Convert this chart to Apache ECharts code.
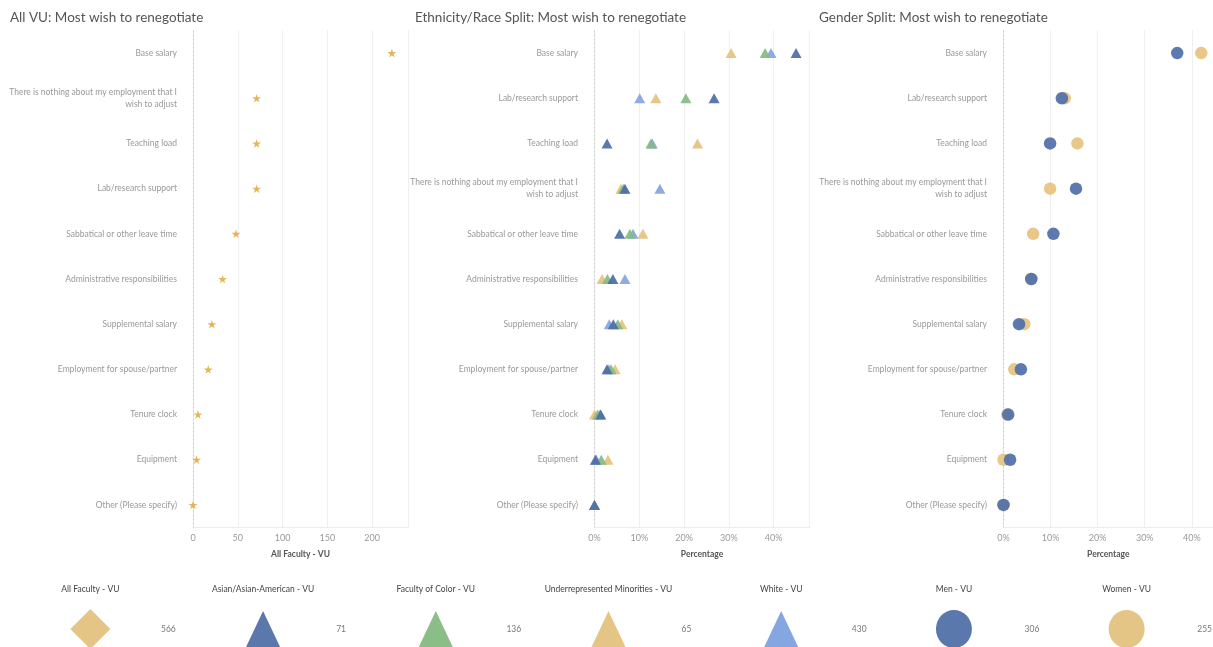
<!DOCTYPE html>
<html>
<head>
<meta charset="utf-8">
<title>Most wish to renegotiate</title>
<script src="https://cdn.jsdelivr.net/npm/echarts@6/dist/echarts.min.js"></script>
<style>
  html, body { margin: 0; padding: 0; background: #fff; }
  #chart { width: 1213px; height: 647px; }
</style>
</head>
<body>
<div id="chart"></div>
<script>
// Items, in the order each panel lists them
var allCategories = ['Base salary', 'There is nothing about my employment that I wish to adjust', 'Teaching load',
  'Lab/research support', 'Sabbatical or other leave time', 'Administrative responsibilities',
  'Supplemental salary', 'Employment for spouse/partner', 'Tenure clock', 'Equipment', 'Other (Please specify)'];
var splitCategories = ['Base salary', 'Lab/research support', 'Teaching load',
  'There is nothing about my employment that I wish to adjust', 'Sabbatical or other leave time',
  'Administrative responsibilities', 'Supplemental salary', 'Employment for spouse/partner',
  'Tenure clock', 'Equipment', 'Other (Please specify)'];

// All Faculty - VU (counts), same order as allCategories
var allFaculty = [222, 71, 71, 71, 48, 33, 21, 17, 5.5, 4, 0];

// Percentages, same order as splitCategories
var urmPct   = [30.5, 13.7, 23.0, 5.9, 10.8, 1.7, 6.1, 4.6, 0.0, 3.0, 0];
var whitePct = [39.4, 10.1, 12.9, 14.6, 8.6, 6.8, 3.3, 3.2, 1.2, 0.4, 0];
var focPct   = [38.1, 20.4, 12.6, 6.4, 7.9, 2.9, 5.2, 3.7, 0.7, 1.5, 0];
var asianPct = [45.0, 26.7, 2.8, 6.8, 5.6, 4.1, 4.2, 2.8, 1.4, 0.2, 0];
var womenPct = [42.0, 13.0, 15.7, 9.9, 6.3, 5.9, 4.4, 2.3, 0.8, 0.0, 0];
var menPct   = [36.9, 12.4, 9.9, 15.4, 10.6, 5.9, 3.3, 3.7, 1.0, 1.4, 0];

// Legend: group names and respondent counts
var legendNames = ['All Faculty - VU', 'Asian/Asian-American - VU', 'Faculty of Color - VU',
  'Underrepresented Minorities - VU', 'White - VU', 'Men - VU', 'Women - VU'];
var legendCounts = [566, 71, 136, 65, 430, 306, 255];

(function () {
  var chart = echarts.init(document.getElementById('chart'));
  var FONT = 'Lato, "Noto Sans", sans-serif';

  var STAR = 'path://M50,0 L61,35 L98,35 L68,57 L79,91 L50,70 L21,91 L32,57 L2,35 L39,35 Z';
  var C = {
    gold: '#e5c585', star: '#dfaf4c', asian: '#4d6ca7', foc: '#86bb80',
    urm: '#e5c17e', white: '#84a4e2', men: '#4f6fa9', women: '#e6c27f'
  };

  function pairs(vals, cats) {
    return vals.map(function (v, i) { return [v, cats[i]]; });
  }

  function wrapLabel(v) {
    return v.replace('that I wish', 'that I\nwish');
  }

  function makeY(gridIndex, cats, offset) {
    return {
      type: 'category', gridIndex: gridIndex, data: cats, inverse: true, offset: offset,
      axisLine: { show: true, lineStyle: { color: '#ececec' } },
      axisTick: { show: false },
      splitLine: { show: false },
      axisLabel: {
        color: '#999', fontSize: 8.5, fontFamily: FONT, margin: 3,
        lineHeight: 12, formatter: wrapLabel
      }
    };
  }

  function makeX(gridIndex, max, interval, name, fmt) {
    return {
      type: 'value', gridIndex: gridIndex, min: 0, max: max, interval: interval,
      name: name, nameLocation: 'middle', nameGap: 22,
      nameTextStyle: { color: '#555', fontSize: 8.5, fontWeight: 'bold', fontFamily: FONT },
      axisLine: { show: true, lineStyle: { color: '#ececec' } },
      axisTick: { show: false },
      splitLine: { show: true, lineStyle: { color: '#efefef', width: 1 } },
      axisLabel: {
        color: '#9a9a9a', fontSize: 9, fontFamily: FONT, margin: 6,
        showMaxLabel: false, formatter: fmt
      }
    };
  }

  // dotted zero line, drawn beneath the marks
  function zero(xi, yi) {
    return {
      type: 'scatter', xAxisIndex: xi, yAxisIndex: yi, data: [], z: 1, silent: true,
      markLine: {
        silent: true, symbol: 'none', label: { show: false }, z: 1,
        lineStyle: { color: '#cdcdcd', type: [2, 2], width: 1 },
        data: [{ xAxis: 0 }]
      }
    };
  }

  function dots(name, xi, yi, vals, cats, symbol, size, color, z) {
    return {
      name: name, type: 'scatter', xAxisIndex: xi, yAxisIndex: yi,
      data: pairs(vals, cats), symbol: symbol, symbolSize: size, z: z,
      itemStyle: { color: color, opacity: 0.92 }
    };
  }

  var titleStyle = { color: '#555', fontSize: 13.5, fontWeight: 'normal', fontFamily: FONT };

  var option = {
    animation: false,
    backgroundColor: '#fff',
    title: [
      { text: 'All VU: Most wish to renegotiate', left: 5, top: 6, textStyle: titleStyle },
      { text: 'Ethnicity/Race Split: Most wish to renegotiate', left: 410, top: 6, textStyle: titleStyle },
      { text: 'Gender Split: Most wish to renegotiate', left: 814, top: 6, textStyle: titleStyle }
    ],
    grid: [
      { left: 193, right: 805, top: 30.5, bottom: 119.5 },
      { left: 594.5, right: 403.5, top: 30.5, bottom: 119.5 },
      { left: 1003.5, right: 0, top: 30.5, bottom: 119.5 },
      { left: 4, right: 0, top: 611, height: 40 }
    ],
    xAxis: [
      makeX(0, 240, 50, 'All Faculty - VU', '{value}'),
      makeX(1, 48, 10, 'Percentage', '{value}%'),
      makeX(2, 44.5, 10, 'Percentage', '{value}%'),
      { type: 'category', gridIndex: 3, data: legendNames, show: false }
    ],
    yAxis: [
      makeY(0, allCategories, 13),
      makeY(1, splitCategories, 13.5),
      makeY(2, splitCategories, 13.5),
      { type: 'value', gridIndex: 3, min: 0, max: 1, show: false }
    ],
    series: [
      zero(0, 0), zero(1, 1), zero(2, 2),

      dots('All Faculty - VU', 0, 0, allFaculty, allCategories, STAR, [9, 8.5], C.star, 3),

      dots('Underrepresented Minorities - VU', 1, 1, urmPct, splitCategories, 'triangle', [11, 10], C.urm, 3),
      dots('White - VU', 1, 1, whitePct, splitCategories, 'triangle', [11, 10], C.white, 4),
      dots('Faculty of Color - VU', 1, 1, focPct, splitCategories, 'triangle', [11, 10], C.foc, 5),
      dots('Asian/Asian-American - VU', 1, 1, asianPct, splitCategories, 'triangle', [11, 10], C.asian, 6),

      dots('Women - VU', 2, 2, womenPct, splitCategories, 'circle', 12.5, C.women, 3),
      dots('Men - VU', 2, 2, menPct, splitCategories, 'circle', 12.5, C.men, 4),

      // legend shapes with their group names above
      {
        type: 'scatter', xAxisIndex: 3, yAxisIndex: 3, silent: true,
        data: legendNames.map(function (n, i) {
          var look = [
            ['diamond', [40, 40], C.gold], ['triangle', [34, 36], '#5b78ad'],
            ['triangle', [34, 36], '#8bbd87'], ['triangle', [34, 36], C.gold],
            ['triangle', [34, 36], '#86a6e2'], ['circle', [36, 38], '#5b78ad'],
            ['circle', [36, 38], C.gold]
          ][i];
          return {
            value: [n, 0.5], symbol: look[0], symbolSize: look[1],
            itemStyle: { color: look[2], opacity: 1 }
          };
        }),
        label: {
          show: true, position: 'inside', offset: [0, -40],
          formatter: function (p) { return p.value[0]; },
          color: '#444', fontSize: 8.5, fontFamily: FONT
        }
      },
      // legend counts
      {
        type: 'scatter', xAxisIndex: 3, yAxisIndex: 3, silent: true,
        symbolSize: 0,
        data: legendNames.map(function (n) { return [n, 0.5]; }),
        label: {
          show: true, position: 'inside', offset: [78, 0],
          formatter: function (p) { return String(legendCounts[p.dataIndex]); },
          color: '#555', fontSize: 8.5, fontFamily: FONT
        }
      }
    ]
  };

  chart.setOption(option);
  window.addEventListener('resize', function () { chart.resize(); });
})();
</script>
</body>
</html>
